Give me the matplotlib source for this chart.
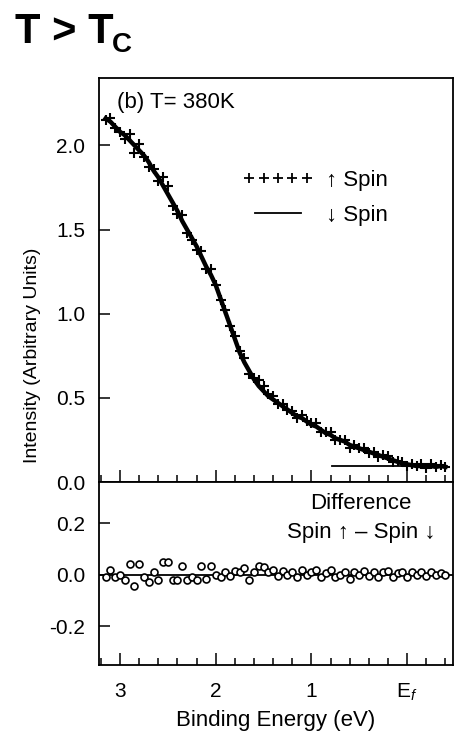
import numpy as np
import matplotlib
matplotlib.use('Agg')
import matplotlib.pyplot as plt
from matplotlib.lines import Line2D
from matplotlib.legend_handler import HandlerLine2D
from matplotlib.ticker import MultipleLocator, FixedLocator

plt.rcParams['font.family'] = ['Liberation Sans', 'DejaVu Sans']
plt.rcParams['axes.unicode_minus'] = False
plt.rcParams['mathtext.fontset'] = 'custom'
plt.rcParams['mathtext.rm'] = 'Liberation Sans'
plt.rcParams['mathtext.it'] = 'Liberation Sans:italic'

# binding energy grid (eV), 3.15 down to -0.40
energy = [3.15, 3.10, 3.05, 3.00, 2.95, 2.90, 2.85, 2.80, 2.75, 2.70,
          2.65, 2.60, 2.55, 2.50, 2.45, 2.40, 2.35, 2.30, 2.25, 2.20,
          2.15, 2.10, 2.05, 2.00, 1.95, 1.90, 1.85, 1.80, 1.75, 1.70,
          1.65, 1.60, 1.55, 1.50, 1.45, 1.40, 1.35, 1.30, 1.25, 1.20,
          1.15, 1.10, 1.05, 1.00, 0.95, 0.90, 0.85, 0.80, 0.75, 0.70,
          0.65, 0.60, 0.55, 0.50, 0.45, 0.40, 0.35, 0.30, 0.25, 0.20,
          0.15, 0.10, 0.05, 0.00, -0.05, -0.10, -0.15, -0.20, -0.25, -0.30,
          -0.35, -0.40]

# spin down intensity (line)
spin_down = [2.16, 2.14, 2.11, 2.08, 2.06, 2.03, 2.00, 1.97, 1.94, 1.90,
             1.85, 1.81, 1.76, 1.71, 1.66, 1.61, 1.55, 1.50, 1.45, 1.40,
             1.34, 1.28, 1.23, 1.17, 1.09, 1.01, 0.93, 0.85, 0.77, 0.71,
             0.66, 0.61, 0.57, 0.54, 0.51, 0.49, 0.47, 0.45, 0.43, 0.41,
             0.39, 0.38, 0.36, 0.34, 0.33, 0.31, 0.29, 0.28, 0.26, 0.25,
             0.24, 0.22, 0.21, 0.20, 0.19, 0.18, 0.17, 0.16, 0.15, 0.14,
             0.13, 0.12, 0.11, 0.105, 0.10, 0.095, 0.095, 0.09, 0.095, 0.09,
             0.095, 0.09]

# difference spin up - spin down
difference = [-0.01, 0.02, -0.01, 0.00, -0.02, 0.04, -0.045, 0.04, -0.01, -0.03,
              0.01, -0.02, 0.05, 0.05, -0.02, -0.02, 0.035, -0.02, -0.01, -0.02,
              0.035, -0.015, 0.035, 0.00, -0.01, 0.01, -0.005, 0.015, 0.01, 0.025,
              -0.02, 0.01, 0.035, 0.03, 0.01, 0.02, -0.005, 0.015, 0.00, 0.01,
              -0.01, 0.02, 0.00, 0.01, 0.02, -0.01, 0.005, 0.02, -0.01, 0.00,
              0.01, -0.015, 0.01, 0.00, 0.015, -0.005, 0.01, -0.01, 0.01, 0.015,
              -0.01, 0.005, 0.01, -0.01, 0.01, 0.00, 0.01, -0.005, 0.01, 0.00,
              0.005, 0.00]

spin_up = np.array(spin_down) + np.array(difference)

# flat background level near E_F
bg_energy = [0.78, 0.04]
bg_level = [0.097, 0.097]

xticks = [3, 2, 1, 0]
xticklabels = ['3', '2', '1', r'E$_{\mathit{f}}$']

fig = plt.figure(figsize=(4.6, 7.33), dpi=100)
ax1 = fig.add_axes([0.2152, 0.3424, 0.7696, 0.5512])
ax2 = fig.add_axes([0.2152, 0.0928, 0.7696, 0.2497])

# top panel
ax1.plot(energy, spin_down, color='black', lw=3.2)
ax1.plot(energy, spin_up, linestyle='none', marker='+', color='black',
         markersize=7, mew=1.5)
ax1.plot(bg_energy, bg_level, color='black', lw=1.3)

ax1.set_xlim(3.22, -0.48)
ax1.set_ylim(0, 2.40)
ax1.set_yticks([0.0, 0.5, 1.0, 1.5, 2.0])
ax1.set_yticklabels(['0.0', '0.5', '1.0', '1.5', '2.0'])
ax1.xaxis.set_major_locator(FixedLocator(xticks))
ax1.xaxis.set_minor_locator(MultipleLocator(0.2))
ax1.tick_params(axis='x', which='both', direction='in', labelbottom=False, top=False)
ax1.tick_params(axis='x', which='major', length=9, width=1.1)
ax1.tick_params(axis='x', which='minor', length=5, width=1.1)
ax1.tick_params(axis='y', direction='in', length=8, width=1.1, labelsize=15, pad=10, right=False)

ax1.text(0.05, 0.965, '(b) T= 380K', transform=ax1.transAxes, fontsize=16,
         ha='left', va='top')

up_handle = Line2D([], [], linestyle='none', marker='+', color='black',
                   markersize=7, mew=1.3)
down_handle = Line2D([], [], color='black', lw=1.3)
ax1.legend([up_handle, down_handle], ['\u2191 Spin', '\u2193 Spin'],
           loc='upper left', bbox_to_anchor=(0.421, 0.772), frameon=False,
           fontsize=16, numpoints=5, handlelength=2.7, handletextpad=0.8,
           labelspacing=0.62, borderpad=0, borderaxespad=0,
           handler_map={up_handle: HandlerLine2D(marker_pad=0.05, numpoints=5)})

# bottom panel
ax2.axhline(0, color='black', lw=1.3)
ax2.plot(energy, difference, linestyle='none', marker='o', markersize=5,
         mfc='white', mec='black', mew=1.2)
ax2.set_xlim(3.22, -0.48)
ax2.set_ylim(-0.35, 0.36)
ax2.set_yticks([-0.2, 0.0, 0.2])
ax2.set_yticklabels(['-0.2', '0.0', '0.2'])
ax2.xaxis.set_major_locator(FixedLocator(xticks))
ax2.set_xticklabels(xticklabels)
ax2.xaxis.set_minor_locator(MultipleLocator(0.2))
ax2.tick_params(axis='x', which='both', direction='in', top=False, labelsize=15, pad=12)
ax2.tick_params(axis='x', which='major', length=9, width=1.1)
ax2.tick_params(axis='x', which='minor', length=5, width=1.1)
ax2.tick_params(axis='y', direction='in', length=8, width=1.1, labelsize=15, pad=10, right=False)
ax2.set_xlabel('Binding Energy (eV)', fontsize=16, labelpad=5)

ax2.text(0.74, 0.94, 'Difference', transform=ax2.transAxes, fontsize=16,
         ha='center', va='top')
ax2.text(0.74, 0.78, 'Spin \u2191 \u2013 Spin \u2193', transform=ax2.transAxes,
         fontsize=16, ha='center', va='top')

for ax in (ax1, ax2):
    for sp in ax.spines.values():
        sp.set_linewidth(1.3)

fig.text(33 / 460, 1 - 355 / 733, 'Intensity (Arbitrary Units)', rotation=90,
         fontsize=14, ha='center', va='center')

# big title T > T_C
fig.text(15 / 460, 1 - 43 / 733, 'T > T', fontsize=30, fontweight='bold',
         ha='left', va='baseline')
fig.text(112 / 460, 1 - 52 / 733, 'C', fontsize=20, fontweight='bold',
         ha='left', va='baseline')

fig.savefig('out.png', dpi=100)
